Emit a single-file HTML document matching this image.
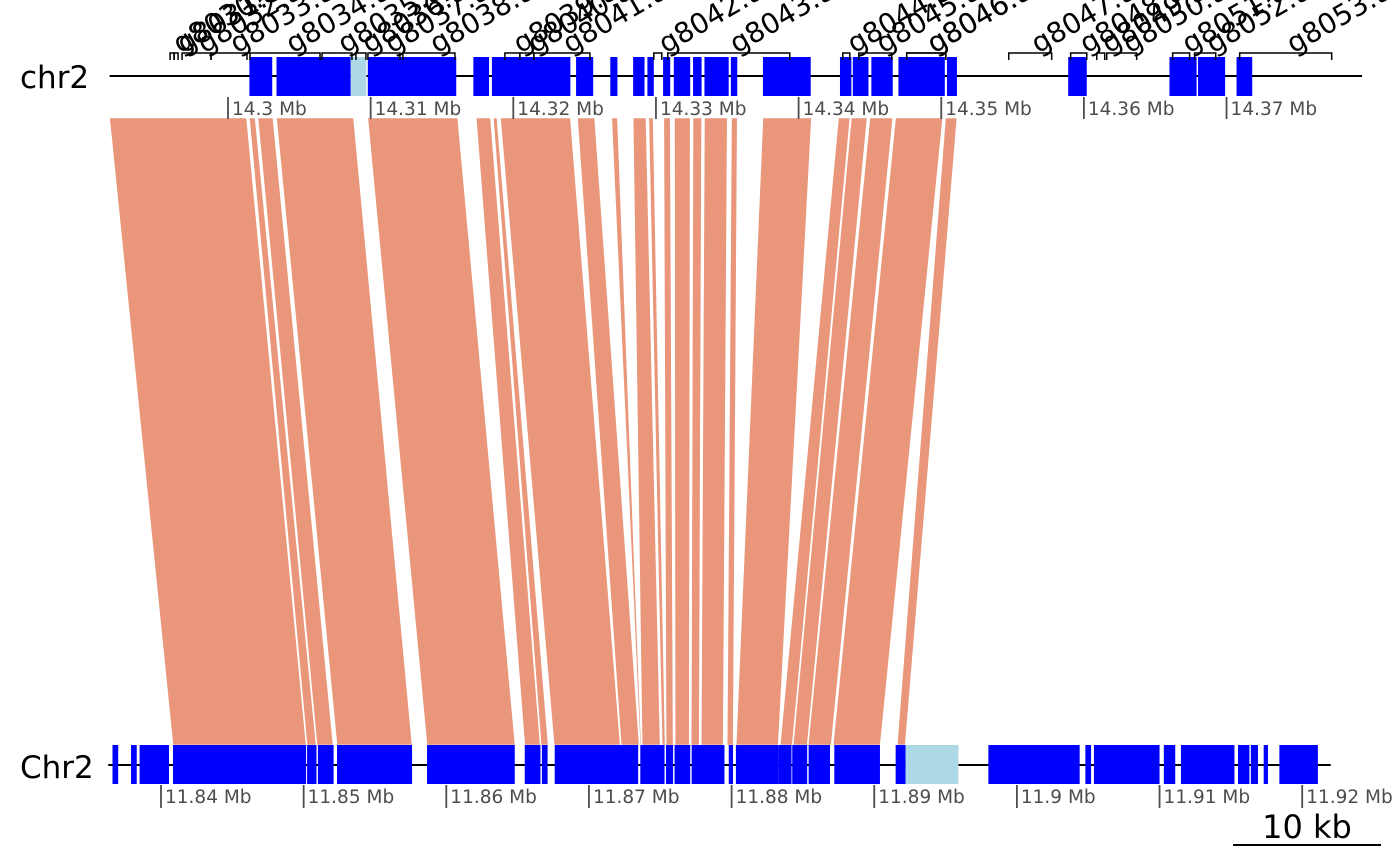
<!DOCTYPE html>
<html><head><meta charset="utf-8"><style>
html,body{margin:0;padding:0;background:#fff;}
svg{display:block;font-family:"DejaVu Sans","Liberation Sans",sans-serif;}
</style></head><body>
<svg id="chart" width="1400" height="865" viewBox="0 0 1400 865" xmlns="http://www.w3.org/2000/svg">
<g id="links"></g>
<g id="top-track"></g>
<g id="bot-track"></g>
<text x="20" y="88" font-size="31">chr2</text>
<text x="20" y="778" font-size="31">Chr2</text>
<g>
<text x="1307" y="838" font-size="32" text-anchor="middle">10 kb</text>
<line x1="1233" y1="845" x2="1381" y2="845" stroke="#000" stroke-width="2"/>
</g>
</svg>
<script>
// ---- data (kb coordinates) ----
const topLineRange = [14291.7, 14379.5];
const botLineRange = [11836.3, 11922.0];
const topGeneStart = [14301.5,14303.4,14308.6,14309.8,14317.2,14318.5,14324.4,14326.8,14328.4,14329.4,14330.5,14331.25,14332.6,14333.4,14335.25,14337.5,14342.9,14343.8,14345.1,14347.0,14350.4,14358.9,14366.0,14368.0,14370.7];
const topGeneEnd   = [14303.1,14308.6,14309.7,14316.0,14318.3,14324.0,14325.6,14327.3,14329.2,14329.85,14331.0,14332.4,14333.2,14335.1,14335.7,14340.85,14343.7,14344.9,14346.6,14350.25,14351.1,14360.2,14367.9,14369.9,14371.8];
const topGeneLight = [false,false,true,false,false,false,false,false,false,false,false,false,false,false,false,false,false,false,false,false,false,false,false,false,false];
const botGeneStart = [11836.6,11837.9,11838.5,11840.84,11850.24,11851.0,11852.34,11858.65,11865.5,11866.7,11867.6,11873.6,11875.4,11876.0,11877.2,11879.8,11880.3,11883.3,11884.25,11885.4,11887.2,11891.5,11892.2,11898.0,11904.8,11905.4,11910.3,11911.5,11915.5,11916.4,11917.3,11918.4];
const botGeneEnd   = [11837.0,11838.3,11840.56,11850.17,11850.9,11852.1,11857.6,11864.8,11866.6,11867.1,11873.45,11875.3,11875.9,11877.1,11879.5,11880.1,11883.3,11884.2,11885.3,11886.9,11890.4,11892.2,11895.9,11904.4,11905.2,11910.0,11911.1,11915.25,11916.3,11916.9,11917.6,11921.1];
const botGeneLight = [false,false,false,false,false,false,false,false,false,false,false,false,false,false,false,false,false,false,false,false,false,false,true,false,false,false,false,false,false,false,false,false];
const linkTopStart = [14291.7,14301.5,14302.1,14303.4,14309.8,14317.4,14318.6,14319.1,14324.5,14326.9,14328.4,14329.5,14330.55,14331.3,14332.6,14333.4,14335.3,14337.5,14342.8,14343.7,14345.0,14346.8,14350.3];
const linkTopEnd   = [14301.3,14301.9,14303.15,14308.8,14316.1,14318.4,14318.85,14324.0,14325.7,14327.3,14329.3,14329.8,14331.0,14332.4,14333.2,14335.0,14335.7,14340.9,14343.6,14344.8,14346.6,14350.1,14351.1];
const linkBotStart = [11840.84,11850.24,11850.94,11852.34,11858.65,11865.5,11866.65,11867.56,11872.26,11873.59,11873.73,11875.13,11875.41,11876.04,11877.17,11877.87,11879.69,11880.32,11883.41,11884.32,11885.37,11887.12,11891.61];
const linkBotEnd   = [11850.17,11850.87,11852.06,11857.6,11864.82,11866.58,11867.14,11872.19,11873.52,11873.66,11874.99,11875.34,11875.9,11877.03,11877.73,11879.41,11880.11,11883.27,11884.25,11885.3,11886.98,11890.42,11892.17];
const topTicks = [14300,14310,14320,14330,14340,14350,14360,14370];
const topTickLabels = ["14.3 Mb","14.31 Mb","14.32 Mb","14.33 Mb","14.34 Mb","14.35 Mb","14.36 Mb","14.37 Mb"];
const botTicks = [11840,11850,11860,11870,11880,11890,11900,11910,11920];
const botTickLabels = ["11.84 Mb","11.85 Mb","11.86 Mb","11.87 Mb","11.88 Mb","11.89 Mb","11.9 Mb","11.91 Mb","11.92 Mb"];
const geneNames = ["g8030.t1","g8031.t1","g8032.t1","g8033.t1","g8034.t1","g8035.t1","g8036.t1","g8037.t1","g8038.t1","g8039.t1","g8040.t1","g8041.t1","g8042.t1","g8043.t1","g8044.t1","g8045.t1","g8046.t1","g8046.t2","g8047.t1","g8048.t1","g8049.t1","g8050.t1","g8051.t1","g8052.t1","g8053.t1"];
const bracketStart = [14295.94,14296.22,14296.78,14298.81,14301.54,14306.59,14308.97,14309.81,14312.26,14319.41,14320.46,14321.44,14329.85,14330.83,14343.1,14344.22,14347.58,14347.58,14354.73,14359.07,14360.9,14361.6,14366.22,14367.76,14370.92];
const bracketEnd   = [14296.22,14296.5,14298.81,14301.33,14306.45,14308.69,14309.67,14312.05,14315.91,14320.46,14321.44,14325.37,14330.41,14339.38,14343.59,14346.53,14350.32,14350.32,14357.74,14360.2,14361.46,14363.7,14367.41,14369.24,14377.37];

// ---- axes ----
const PX_PER_KB = 14.265;
const xTop = kb => 228 + (kb - 14300) * PX_PER_KB;
const xBot = kb => 161 + (kb - 11840) * PX_PER_KB;
const NS = "http://www.w3.org/2000/svg";
function mk(tag, parent, attrs){const e=document.createElementNS(NS,tag);for(const k in attrs)e.setAttribute(k,attrs[k]);parent.appendChild(e);return e;}
const gl = document.getElementById('links'), gt = document.getElementById('top-track'), gb = document.getElementById('bot-track');
const TOPY = 118, BOTY = 745;

linkTopStart.forEach((s,i)=>{
  const p = mk('polygon', gl, {points:`${xTop(s)},${TOPY} ${xTop(linkTopEnd[i])},${TOPY} ${xBot(linkBotEnd[i])},${BOTY} ${xBot(linkBotStart[i])},${BOTY}`, fill:'#e9967a', stroke:'#ffffff', 'stroke-width':'0.6'});
  
  
});

// top track
let l = mk('line', gt, {x1:xTop(topLineRange[0]), x2:xTop(topLineRange[1]), y1:76, y2:76, stroke:'#000', 'stroke-width':2});


topGeneStart.forEach((s,i)=>{
  const r = mk('rect', gt, {x:xTop(s), y:57, width:xTop(topGeneEnd[i])-xTop(s), height:39, fill:topGeneLight[i]?'#add8e6':'#0000ff'});
  
  
});
bracketStart.forEach((s,i)=>{
  const a = xTop(s), b = xTop(bracketEnd[i]);
  const br = mk('path', gt, {d:`M${a},60 V53 H${b} V60`, fill:'none', stroke:'#000', 'stroke-width':1.5});
  
  
  const cx = (a+b)/2 + 8;
  const t = mk('text', gt, {x:cx, y:54, 'font-size':28, transform:`rotate(-30 ${cx} 54)`});
  t.textContent = geneNames[i];
  
  
});
topTicks.forEach((v,i)=>{
  const x = xTop(v);
  const tl = mk('line', gt, {x1:x, x2:x, y1:97, y2:119, stroke:'#4d4d4d', 'stroke-width':1.8});
  
  
  const tx = mk('text', gt, {x:x+4, y:115, 'font-size':18.5, fill:'#4d4d4d'});
  tx.textContent = topTickLabels[i];
  
  
});

// bottom track
l = mk('line', gb, {x1:xBot(botLineRange[0]), x2:xBot(botLineRange[1]), y1:765, y2:765, stroke:'#000', 'stroke-width':2});


botGeneStart.forEach((s,i)=>{
  const r = mk('rect', gb, {x:xBot(s), y:745, width:xBot(botGeneEnd[i])-xBot(s), height:39, fill:botGeneLight[i]?'#add8e6':'#0000ff'});
  
  
});
botTicks.forEach((v,i)=>{
  const x = xBot(v);
  const tl = mk('line', gb, {x1:x, x2:x, y1:785, y2:808, stroke:'#4d4d4d', 'stroke-width':1.8});
  
  
  const tx = mk('text', gb, {x:x+4, y:803, 'font-size':18.5, fill:'#4d4d4d'});
  tx.textContent = botTickLabels[i];
  
  
});
</script>
</body></html>
